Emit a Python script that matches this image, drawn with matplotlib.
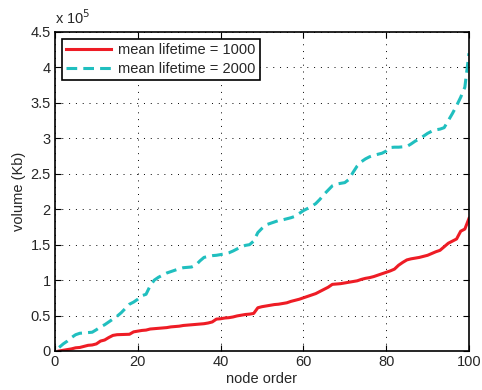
import numpy as np
import matplotlib
matplotlib.use("Agg")
import matplotlib.pyplot as plt
from matplotlib.ticker import FormatStrFormatter

plt.rcParams["font.family"] = ["Liberation Sans", "DejaVu Sans"]

# node order 1..100, volume in units of 1e5 Kb
nodes = np.arange(1, 101)

vol_1000 = [0.00, 0.01, 0.02, 0.03, 0.045, 0.05, 0.065, 0.08, 0.085, 0.10,
            0.14, 0.155, 0.19, 0.22, 0.23, 0.232, 0.234, 0.236, 0.27, 0.28,
            0.29, 0.295, 0.31, 0.315, 0.32, 0.325, 0.33, 0.34, 0.345, 0.35,
            0.36, 0.365, 0.37, 0.375, 0.38, 0.385, 0.395, 0.41, 0.45, 0.455,
            0.465, 0.47, 0.48, 0.495, 0.505, 0.515, 0.52, 0.53, 0.61, 0.625,
            0.635, 0.645, 0.655, 0.66, 0.67, 0.68, 0.70, 0.715, 0.73, 0.75,
            0.77, 0.79, 0.81, 0.84, 0.87, 0.90, 0.94, 0.945, 0.95, 0.96,
            0.97, 0.98, 0.99, 1.01, 1.025, 1.035, 1.05, 1.07, 1.09, 1.11,
            1.13, 1.155, 1.21, 1.25, 1.285, 1.30, 1.31, 1.32, 1.335, 1.35,
            1.375, 1.40, 1.42, 1.47, 1.52, 1.55, 1.58, 1.69, 1.72, 1.87]

vol_2000 = [0.05, 0.10, 0.14, 0.19, 0.23, 0.25, 0.255, 0.26, 0.265, 0.30,
            0.34, 0.37, 0.41, 0.45, 0.49, 0.54, 0.60, 0.66, 0.69, 0.73,
            0.78, 0.80, 0.92, 1.00, 1.04, 1.07, 1.10, 1.12, 1.14, 1.16,
            1.175, 1.18, 1.185, 1.21, 1.27, 1.32, 1.335, 1.345, 1.35, 1.36,
            1.37, 1.385, 1.41, 1.44, 1.47, 1.49, 1.50, 1.55, 1.67, 1.73,
            1.78, 1.80, 1.82, 1.84, 1.85, 1.865, 1.88, 1.90, 1.94, 1.98,
            2.01, 2.04, 2.08, 2.14, 2.21, 2.27, 2.33, 2.355, 2.365, 2.375,
            2.42, 2.52, 2.61, 2.67, 2.71, 2.74, 2.76, 2.775, 2.79, 2.82,
            2.87, 2.875, 2.875, 2.88, 2.885, 2.92, 2.96, 2.99, 3.03, 3.07,
            3.10, 3.12, 3.13, 3.15, 3.25, 3.35, 3.46, 3.58, 3.72, 4.20]

txt = "#262626"
fs = 10.5

fig = plt.figure(figsize=(4.82, 3.9), dpi=100)
ax = fig.add_axes([0.114, 0.1, 0.859, 0.818])

ax.plot(nodes, vol_1000, color="#ee1c25", lw=2.2, label="mean lifetime = 1000")
ax.plot(nodes, vol_2000, color="#20bfbf", lw=2.2, ls=(0, (3.5, 2)),
        label="mean lifetime = 2000")

ax.set_xlim(0, 100)
ax.set_ylim(0, 4.5)
ax.set_xticks(np.arange(0, 101, 20))
ax.set_yticks(np.arange(0, 4.51, 0.5))
ax.yaxis.set_major_formatter(FormatStrFormatter("%g"))
ax.tick_params(direction="in", top=True, right=True, labelsize=fs,
               labelcolor=txt, length=4, pad=3)
ax.grid(True, color="black", ls=(0, (1, 6)), lw=0.7)
for s in ax.spines.values():
    s.set_linewidth(1.2)

ax.set_xlabel("node order", fontsize=fs, color=txt, labelpad=2)
ax.set_ylabel("volume (Kb)", fontsize=fs, color=txt, labelpad=3)
ax.text(0.0, 1.015, "x 10$^5$", transform=ax.transAxes, fontsize=fs,
        color=txt, ha="left", va="bottom")

leg = ax.legend(loc="upper left", fontsize=fs, fancybox=False,
                framealpha=1, edgecolor="black", borderaxespad=0.45,
                handlelength=3.1, handletextpad=0.5, borderpad=0.3,
                labelspacing=0.35)
leg.get_frame().set_linewidth(1.2)
for t in leg.get_texts():
    t.set_color(txt)

fig.savefig("out.png", dpi=100)
